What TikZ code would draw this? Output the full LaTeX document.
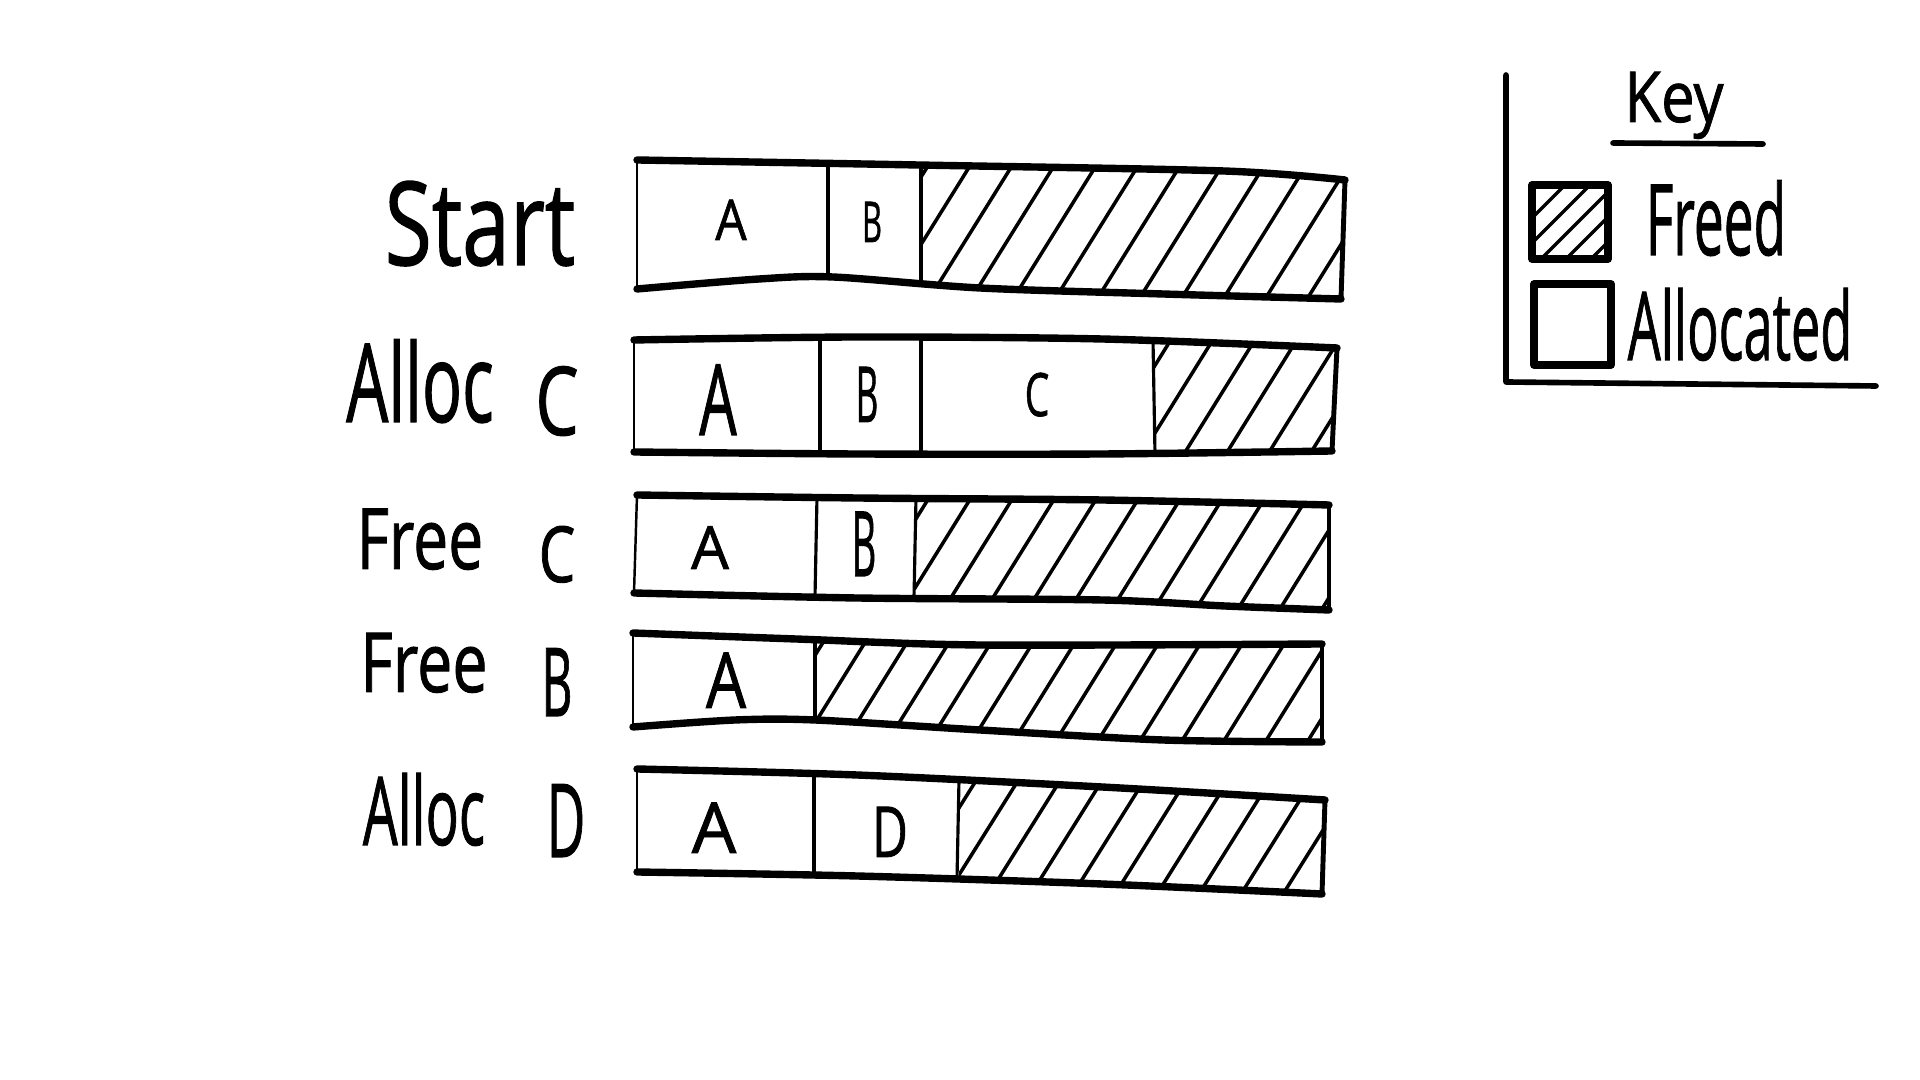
\documentclass[tikz,border=0pt]{standalone}
\usepackage{fontspec}
\setmainfont{Open Sans}[FakeBold=1.2]
\newcommand{\squeeze}[2]{\scalebox{#1}[1]{#2}}
\newcommand{\fs}[1]{\fontsize{#1}{#1}\selectfont}

\begin{document}
\begin{tikzpicture}[
      x = 0.01cm, y = -0.01cm,
      lbl/.style = {anchor = base,inner sep = 0pt},
      edge/.style = {line width = 2.1pt,line cap = round,line join = round},
      side/.style = {line width = 0.7pt},
      rside/.style = {line width = 1.4pt,line cap = round},
      divider/.style = {line width = 0.9pt},
      hatch/.style = {line width = 1pt},
      keyline/.style = {line width = 1.6pt,line cap = round,line join = round}
    ]
      \useasboundingbox (0,0) rectangle (1920,1080);

      % row labels
      \node (startlbl)[lbl,font=\fs{33}] at (480,265) {\squeeze{0.74}{Start}};
      \node (alloclbl1)[lbl,font=\fs{31}] at (420,422) {\squeeze{0.61}{Alloc}};
      \node (clbl1)[lbl,font=\fs{27}] at (557,435) {\squeeze{0.72}{C}};
      \node (freelbl1)[lbl,font=\fs{24}] at (420,569) {\squeeze{0.74}{Free}};
      \node (clbl2)[lbl,font=\fs{22}] at (557,582) {\squeeze{0.75}{C}};
      \node (freelbl2)[lbl,font=\fs{23.5}] at (424,692) {\squeeze{0.76}{Free}};
      \node (blbl)[lbl,font=\fs{27}] at (557,716) {\squeeze{0.5}{B}};
      \node (alloclbl2)[lbl,font=\fs{27}] at (424,845) {\squeeze{0.58}{Alloc}};
      \node (dlbl)[lbl,font=\fs{29}] at (566,857) {\squeeze{0.52}{D}};

      % bar 1: start
      \begin{scope}
        \clip plot[smooth] coordinates {(637,160) (918,165) (1224,171) (1345,180)}
          -- plot[smooth] coordinates {(1341,299) (1163,294) (980,288) (833,277) (759,279) (637,289)} -- cycle;
        \clip (921,0) rectangle (1920,1080);
        \foreach \x in {790,832,...,1400} \draw[hatch] (\x,320) -- ++(137,-220);
      \end{scope}
      \draw[divider] (828,164) -- (828,277);
      \draw[divider] (921,165) -- (921,283);
      \draw[side] (637,160) -- (637,289);
      \draw[rside] (1345,180) -- (1341,299);
      \draw[edge] plot[smooth] coordinates {(637,160) (918,165) (1224,171) (1345,180)};
      \draw[edge] plot[smooth] coordinates {(637,289) (759,279) (833,277) (980,288) (1163,294) (1341,299)};
      \node (a1)[lbl,font=\fs{16}] at (731,240) {\squeeze{0.88}{A}};
      \node (b1)[lbl,font=\fs{16}] at (872,242) {\squeeze{0.55}{B}};

      % bar 2: alloc C
      \begin{scope}
        \clip plot[smooth] coordinates {(634,340) (857,337) (1102,339) (1337,348)}
          -- plot[smooth] coordinates {(1332,451) (1102,454) (857,454) (634,452)} -- cycle;
        \clip (1153,0) rectangle (1920,1080);
        \foreach \x in {1090,1132,...,1400} \draw[hatch] (\x,470) -- ++(87,-140);
      \end{scope}
      \draw[divider] (820,337) -- (820,454);
      \draw[divider] (921,337) -- (921,454);
      \draw[divider] (1153,340) -- (1155,454);
      \draw[side] (634,340) -- (634,452);
      \draw[rside] (1337,348) -- (1332,451);
      \draw[edge] plot[smooth] coordinates {(634,340) (857,337) (1102,339) (1337,348)};
      \draw[edge] plot[smooth] coordinates {(634,452) (857,454) (1102,454) (1332,451)};
      \node (a2)[lbl,font=\fs{28}] at (718,435) {\squeeze{0.6}{A}};
      \node (b2)[lbl,font=\fs{22}] at (867,422) {\squeeze{0.45}{B}};
      \node (c2)[lbl,font=\fs{17}] at (1037,416) {\squeeze{0.65}{C}};

      % bar 3: free C
      \begin{scope}
        \clip plot[smooth] coordinates {(637,495) (857,498) (1102,500) (1329,505)}
          -- plot[smooth] coordinates {(1329,610) (1225,606) (1102,600) (857,598) (634,593)} -- cycle;
        \clip (916,0) rectangle (1920,1080);
        \foreach \x in {850,892,...,1400} \draw[hatch] (\x,625) -- ++(87,-140);
      \end{scope}
      \draw[divider] (817,497) -- (815,597);
      \draw[divider] (916,498) -- (914,598);
      \draw[side] (637,495) -- (634,593);
      \draw[rside] (1329,505) -- (1329,610);
      \draw[edge] plot[smooth] coordinates {(637,495) (857,498) (1102,500) (1329,505)};
      \draw[edge] plot[smooth] coordinates {(634,593) (857,598) (1102,600) (1225,606) (1329,610)};
      \node (a3)[lbl,font=\fs{17}] at (710,569) {A};
      \node (b3)[lbl,font=\fs{25.6}] at (864,576) {\squeeze{0.42}{B}};

      % bar 4: free B
      \begin{scope}
        \clip plot[smooth] coordinates {(633,633) (796,639) (980,645) (1322,644)}
          -- plot[smooth] coordinates {(1322,742) (1163,740) (980,730) (815,720) (735,720) (633,727)} -- cycle;
        \clip (815,0) rectangle (1920,1080);
        \foreach \x in {750,792,...,1400} \draw[hatch] (\x,760) -- ++(87,-140);
      \end{scope}
      \draw[divider] (815,638) -- (815,720);
      \draw[side] (633,633) -- (633,727);
      \draw[rside] (1322,644) -- (1322,742);
      \draw[edge] plot[smooth] coordinates {(633,633) (796,639) (980,645) (1322,644)};
      \draw[edge] plot[smooth] coordinates {(633,727) (735,720) (815,720) (980,730) (1163,740) (1322,742)};
      \node (a4)[lbl,font=\fs{22}] at (726,708) {\squeeze{0.82}{A}};

      % bar 5: alloc D
      \begin{scope}
        \clip plot[smooth] coordinates {(637,769) (857,775) (1102,787) (1325,800)}
          -- plot[smooth] coordinates {(1322,894) (1102,884) (857,876) (637,872)} -- cycle;
        \clip (959,0) rectangle (1920,1080);
        \foreach \x in {895,937,...,1400} \draw[hatch] (\x,910) -- ++(94,-150);
      \end{scope}
      \draw[divider] (814,774) -- (814,875);
      \draw[divider] (959,780) -- (957,879);
      \draw[side] (637,769) -- (637,872);
      \draw[rside] (1325,800) -- (1322,894);
      \draw[edge] plot[smooth] coordinates {(637,769) (857,775) (1102,787) (1325,800)};
      \draw[edge] plot[smooth] coordinates {(637,872) (857,876) (1102,884) (1322,894)};
      \node (a5)[lbl,font=\fs{20}] at (714,853) {A};
      \node (d5)[lbl,font=\fs{20}] at (890,857) {\squeeze{0.7}{D}};

      % key
      \draw[keyline] (1506,75) -- (1506,382) -- (1876,386);
      \node (keylbl)[lbl,font=\fs{20}] at (1674,122) {\squeeze{0.85}{Key}};
      \draw[keyline] (1613,143) -- (1763,144);
      \begin{scope}
        \clip (1532,185) rectangle (1608,259);
        \foreach \x in {1480,1505,...,1620} \draw[hatch] (\x,270) -- ++(100,-100);
      \end{scope}
      \draw[edge] (1532,185) rectangle (1608,259);
      \node (freedlbl)[lbl,font=\fs{28}] at (1716,255) {\squeeze{0.54}{Freed}};
      \draw[edge] (1534,284) rectangle (1611,365);
      \node (alloclbl)[lbl,font=\fs{27}] at (1740,360) {\squeeze{0.55}{Allocated}};
    \end{tikzpicture}
\end{document}
